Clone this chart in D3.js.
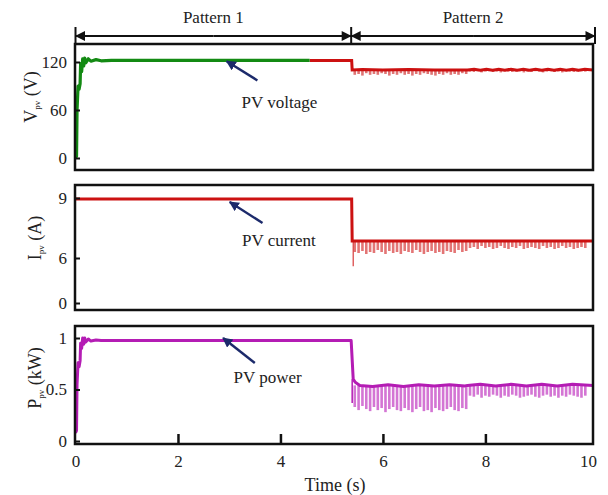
<!DOCTYPE html>
<html>
<head>
<meta charset="utf-8">
<script src="https://cdn.jsdelivr.net/npm/d3@7"></script>
<style>
body { margin: 0; background: #fff; }
svg text { font-family: "Liberation Serif", Tinos, "Times New Roman", Times, "DejaVu Serif", serif; fill: #222; }
</style>
</head>
<body>
<svg id="chart" width="608" height="495"></svg>
<script>
// ---- data ----
const xTicks = [0, 2, 4, 6, 8, 10];
const xTickMarks = [2, 4, 6, 8];
const patternNames = ["Pattern 1", "Pattern 2"];
const patternEdges = [0, 5.4, 10.1];

// PV voltage
const vGreenT = [0, 0.02, 0.03, 0.05, 0.07, 0.09, 0.1, 0.12, 0.14, 0.16, 0.18, 0.2, 0.25, 0.3, 0.4, 0.5, 0.7, 1.0, 4.57];
const vGreenV = [2, 2, 60, 90, 86, 93, 118, 108, 124, 115, 125, 119, 124, 121, 123, 121.5, 122, 122, 122];
const vRedT = [4.57, 5.39, 5.4, 5.6, 6.0, 6.5, 7.0, 7.65, 7.78, 7.9, 8.02, 8.14, 8.26, 8.38, 8.5, 8.62, 8.74, 8.86, 8.98, 9.1, 9.22, 9.34, 9.46, 9.58, 9.7, 9.82, 9.94, 10.1];
const vRedV = [122, 122, 110, 110.5, 110, 110.5, 110, 110, 111, 109.8, 111, 109.8, 110.8, 109.8, 111, 109.8, 110.8, 109.8, 111, 109.8, 110.8, 109.8, 111, 109.8, 110.8, 109.8, 110.8, 110];
const vBase = 110;
const vSpikes = [104, 105, 103, 106, 104, 105, 104, 106, 105, 103, 105, 104, 106, 104, 105, 103, 105, 104, 106, 105, 104, 103, 105, 104, 106, 104, 105, 104, 106, 105,
  108, 107.5, 108.5, 107, 108, 108.5, 107.5, 108, 107, 108.5, 108, 107.5, 108, 108.5, 107, 108, 107.5, 108.5, 108, 107, 108, 108.5, 107.5, 108, 107, 108.5, 108, 107.5, 108, 108.5, 108];

// PV current
const iT = [0, 5.39, 5.4, 10.1];
const iV = [8.95, 8.95, 6.85, 6.85];
const iBase = 6.85;
const iDip = [5.42, 4.9];
const iSpikes = [6.3, 6.25, 6.35, 6.2, 6.3, 6.25, 6.4, 6.3, 6.2, 6.35, 6.25, 6.3, 6.2, 6.35, 6.3, 6.25, 6.4, 6.3, 6.2, 6.3, 6.35, 6.25, 6.3, 6.2, 6.35, 6.3, 6.25, 6.4, 6.3, 6.35,
  6.5, 6.55, 6.45, 6.6, 6.5, 6.55, 6.45, 6.5, 6.6, 6.5, 6.45, 6.55, 6.5, 6.6, 6.45, 6.5, 6.55, 6.5, 6.45, 6.6, 6.5, 6.55, 6.45, 6.5, 6.6, 6.5, 6.55, 6.45, 6.5, 6.55, 6.5];

// PV power
const pT = [0, 0.02, 0.03, 0.05, 0.07, 0.09, 0.1, 0.12, 0.14, 0.16, 0.18, 0.2, 0.25, 0.3, 0.4, 0.5, 1.0, 5.38, 5.42, 5.46, 5.55, 5.8, 6.1, 6.4, 6.7, 7.0, 7.3, 7.6, 7.65, 7.9, 8.2, 8.5, 8.8, 9.1, 9.4, 9.7, 10.1];
const pV = [0.08, 0.1, 0.55, 0.76, 0.72, 0.78, 0.95, 0.9, 1.0, 0.94, 1.0, 0.96, 0.99, 0.97, 0.98, 0.975, 0.975, 0.975, 0.6, 0.57, 0.54, 0.53, 0.545, 0.53, 0.545, 0.535, 0.545, 0.535, 0.54, 0.55, 0.535, 0.55, 0.535, 0.55, 0.535, 0.55, 0.54];
const pBase = 0.54;
const pDip = [5.4, 0.37];
const pSpikes = [0.33, 0.3, 0.34, 0.31, 0.29, 0.33, 0.3, 0.32, 0.28, 0.31, 0.33, 0.3, 0.29, 0.32, 0.3, 0.28, 0.31, 0.33, 0.29, 0.3, 0.28, 0.32, 0.3, 0.29, 0.31, 0.33, 0.3, 0.29, 0.32, 0.31,
  0.44, 0.43, 0.45, 0.42, 0.44, 0.43, 0.45, 0.44, 0.42, 0.44, 0.43, 0.45, 0.44, 0.42, 0.43, 0.44, 0.45, 0.43, 0.42, 0.44, 0.45, 0.43, 0.44, 0.42, 0.44, 0.43, 0.45, 0.44, 0.43, 0.42, 0.44];

const spikeT = d3.range(vSpikes.length).map(i => 5.45 + i * 0.075);

// ---- layout ----
const serif = '"Liberation Serif", Tinos, "Times New Roman", Times, "DejaVu Serif", serif';
const svg = d3.select("#chart").attr("font-family", serif);
const x = d3.scaleLinear().domain([0, 10.1]).range([75.5, 593]);
const left = 75, right = 593;
const navy = "#1c2a6b";

const panels = [
  { top: 44, bottom: 170, y: d3.scaleLinear().domain([0, 120]).range([158, 62]), ticks: [0, 60, 120],
    label: ["V", "pv", " (V)"], labelPos: [37, 97], note: "PV voltage", tip: [2.95, 121], tail: [3.55, 97], text: [3.98, 62] },
  { top: 185, bottom: 310, y: d3.scaleLinear().domain([0, 6, 9]).range([303, 258, 198]), ticks: [0, 6, 9],
    label: ["I", "pv", " (A)"], labelPos: [41, 238], note: "PV current", tip: [3.01, 8.8], tail: [3.65, 7.75], text: [3.97, 6.6] },
  { top: 326, bottom: 444, y: d3.scaleLinear().domain([0, 1]).range([441, 338]), ticks: [0, 0.5, 1],
    label: ["P", "pv", " (kW)"], labelPos: [41, 378], note: "PV power", tip: [2.88, 1.0], tail: [3.5, 0.757], text: [3.75, 0.563] }
];

svg.append("defs").append("marker")
  .attr("id", "ah").attr("viewBox", "0 0 10 10").attr("refX", 9).attr("refY", 5)
  .attr("markerWidth", 4.2).attr("markerHeight", 4.2).attr("markerUnits", "strokeWidth")
  .attr("orient", "auto")
  .append("path").attr("d", "M0,0 L10,5 L0,10 Z").attr("fill", navy);

svg.append("defs").append("marker")
  .attr("id", "bh").attr("viewBox", "0 0 10 10").attr("refX", 9.5).attr("refY", 5)
  .attr("markerWidth", 5.5).attr("markerHeight", 5).attr("markerUnits", "strokeWidth")
  .attr("orient", "auto")
  .append("path").attr("d", "M0,0 L10,5 L0,10 Z").attr("fill", "#111");

panels.forEach((p, k) => {
  svg.append("clipPath").attr("id", "clip" + k)
    .append("rect").attr("x", left).attr("y", p.top).attr("width", right - left).attr("height", p.bottom - p.top);
});

function lineOf(y) {
  return d3.line().x(d => x(d[0])).y(d => y(d[1]));
}

function drawSpikes(g, y, base, depths, color) {
  g.selectAll(null).data(d3.zip(spikeT, depths)).join("line")
    .attr("x1", d => x(d[0])).attr("x2", d => x(d[0]))
    .attr("y1", y(base)).attr("y2", d => y(d[1]))
    .attr("stroke", color).attr("stroke-width", 2.6).attr("opacity", 0.7);
}

// panel 1
{
  const p = panels[0];
  const g = svg.append("g").attr("clip-path", "url(#clip0)");
  drawSpikes(g, p.y, vBase, vSpikes, "#d23a3a");
  g.append("path").datum(d3.zip(vRedT, vRedV)).attr("d", lineOf(p.y))
    .attr("fill", "none").attr("stroke", "#cc1111").attr("stroke-width", 3);
  g.append("path").datum(d3.zip(vGreenT, vGreenV)).attr("d", lineOf(p.y))
    .attr("fill", "none").attr("stroke", "#138a13").attr("stroke-width", 3.2).attr("stroke-linejoin", "round");
}
// panel 2
{
  const p = panels[1];
  const g = svg.append("g").attr("clip-path", "url(#clip1)");
  drawSpikes(g, p.y, iBase, iSpikes, "#d83c3c");
  g.append("line").attr("x1", x(iDip[0])).attr("x2", x(iDip[0]))
    .attr("y1", p.y(iBase)).attr("y2", p.y(iDip[1])).attr("stroke", "#d83c3c").attr("stroke-width", 1.2);
  g.append("path").datum(d3.zip(iT, iV)).attr("d", lineOf(p.y))
    .attr("fill", "none").attr("stroke", "#cc1111").attr("stroke-width", 3);
}
// panel 3
{
  const p = panels[2];
  const g = svg.append("g").attr("clip-path", "url(#clip2)");
  drawSpikes(g, p.y, pBase, pSpikes, "#c23cc2");
  g.append("line").attr("x1", x(pDip[0])).attr("x2", x(pDip[0]))
    .attr("y1", p.y(0.6)).attr("y2", p.y(pDip[1])).attr("stroke", "#b41cb4").attr("stroke-width", 1.5);
  g.append("path").datum(d3.zip(pT, pV)).attr("d", lineOf(p.y))
    .attr("fill", "none").attr("stroke", "#b41cb4").attr("stroke-width", 3).attr("stroke-linejoin", "round");
}

// frames, axes, labels, notes
panels.forEach((p, k) => {
  svg.append("rect").attr("x", left).attr("y", p.top).attr("width", right - left).attr("height", p.bottom - p.top)
    .attr("fill", "none").attr("stroke", "#111").attr("stroke-width", 2.5);

  const ax = svg.append("g").attr("transform", `translate(${left},0)`)
    .call(d3.axisLeft(p.y).tickValues(p.ticks).tickFormat(d3.format("")).tickSizeInner(-5).tickSizeOuter(0).tickPadding(8));
  ax.attr("font-family", serif).attr("font-size", 17);
  ax.select(".domain").remove();
  ax.selectAll("line").attr("stroke", "#111").attr("stroke-width", 2);
  ax.selectAll("text").attr("fill", "#222");

  const lab = svg.append("text")
    .attr("transform", `translate(${p.labelPos[0]},${p.labelPos[1]}) rotate(-90)`)
    .attr("text-anchor", "middle").attr("font-size", 18);
  lab.append("tspan").text(p.label[0]);
  lab.append("tspan").text(p.label[1]).attr("font-size", 9).attr("dy", 3);
  lab.append("tspan").text(p.label[2]).attr("dy", -3);

  svg.append("line")
    .attr("x1", x(p.tail[0])).attr("y1", p.y(p.tail[1]))
    .attr("x2", x(p.tip[0])).attr("y2", p.y(p.tip[1]))
    .attr("stroke", navy).attr("stroke-width", 2.4).attr("marker-end", "url(#ah)");
  svg.append("text").attr("x", x(p.text[0])).attr("y", p.y(p.text[1]))
    .attr("text-anchor", "middle").attr("font-size", 17).text(p.note);
});

// bottom axis
const bx = svg.append("g").attr("transform", `translate(0,${panels[2].bottom})`)
  .call(d3.axisBottom(x).tickValues(xTicks).tickSize(0).tickPadding(11));
bx.attr("font-family", serif).attr("font-size", 17);
bx.select(".domain").remove();
bx.selectAll("text").attr("fill", "#222");
const bm = svg.append("g").attr("transform", `translate(0,${panels[2].bottom})`)
  .call(d3.axisBottom(x).tickValues(xTickMarks).tickSize(-10).tickFormat(""));
bm.select(".domain").remove();
bm.selectAll("line").attr("stroke", "#111").attr("stroke-width", 2.5);

svg.append("text").attr("x", 335).attr("y", 491).attr("text-anchor", "middle")
  .attr("font-size", 18).text("Time (s)");

// pattern header
const hy = 36;
const hx = [x(patternEdges[0]), x(patternEdges[1]) - 1, 595];
hx.forEach((v, i) => {
  svg.append("line").attr("x1", v).attr("x2", v).attr("y1", 27).attr("y2", i === 1 ? panels[0].top : 44)
    .attr("stroke", "#111").attr("stroke-width", 2);
});
for (let i = 0; i < 2; i++) {
  const a = hx[i], b = hx[i + 1];
  const mid = (a + b) / 2;
  [[mid, a], [mid, b]].forEach(s => {
    svg.append("line").attr("x1", s[0]).attr("y1", hy).attr("x2", s[1]).attr("y2", hy)
      .attr("stroke", "#111").attr("stroke-width", 2).attr("marker-end", "url(#bh)");
  });
  svg.append("text").attr("x", mid).attr("y", 23).attr("text-anchor", "middle")
    .attr("font-size", 17).text(patternNames[i]);
}
</script>
</body>
</html>
